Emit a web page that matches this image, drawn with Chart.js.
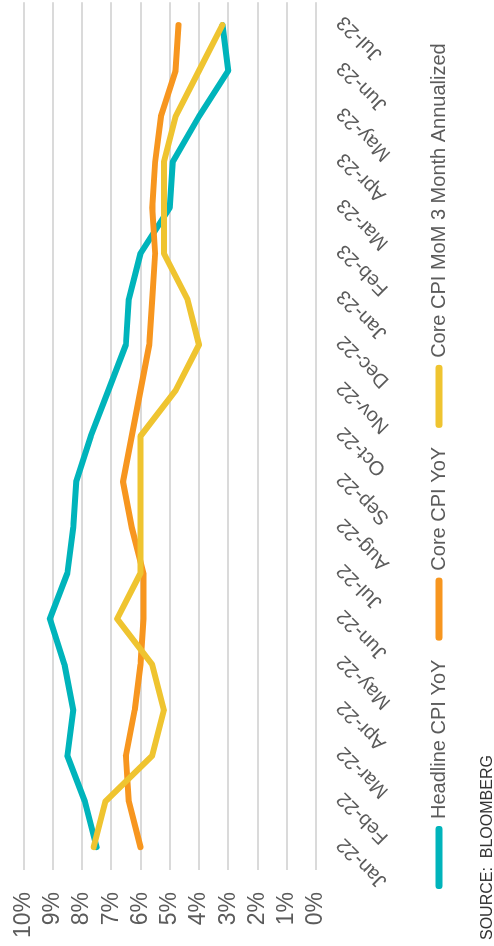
<!DOCTYPE html>
<html>
<head>
<meta charset="utf-8">
<script src="https://cdn.jsdelivr.net/npm/chart.js@4"></script>
<style>
  html, body { margin: 0; padding: 0; background: #fff; overflow: hidden; }
  #stage {
    position: absolute; left: 0; top: 946px;
    width: 946px; height: 494px; overflow: hidden;
    transform-origin: 0 0; transform: rotate(-90deg);
    font-family: "Liberation Sans", Arial, sans-serif;
  }
  #wrap { position: absolute; left: 0; top: 0; width: 954px; height: 494px; }
  #source {
    position: absolute; left: 6px; top: 478px;
    font-size: 16px; color: #333; white-space: pre;
  }
</style>
</head>
<body>
<div id="stage">
  <div id="wrap"><canvas id="myChart"></canvas></div>
  <div id="source">SOURCE:  BLOOMBERG</div>
</div>
<script>
// Months on the category axis
const months = ['Jan-22', 'Feb-22', 'Mar-22', 'Apr-22', 'May-22', 'Jun-22', 'Jul-22', 'Aug-22', 'Sep-22',
    'Oct-22', 'Nov-22', 'Dec-22', 'Jan-23', 'Feb-23', 'Mar-23', 'Apr-23', 'May-23', 'Jun-23', 'Jul-23'];

// Series values (percent)
const headlineYoY = [7.5, 7.9, 8.5, 8.3, 8.6, 9.1, 8.5, 8.3, 8.2, 7.7, 7.1, 6.5, 6.4, 6.0, 5.0, 4.9, 4.0, 3.0, 3.2];
const coreYoY = [6.0, 6.4, 6.5, 6.2, 6.0, 5.9, 5.9, 6.3, 6.6, 6.3, 6.0, 5.7, 5.6, 5.5, 5.6, 5.5, 5.3, 4.8, 4.7];
const coreMoM3m = [7.6, 7.2, 5.6, 5.2, 5.6, 6.8, 6.0, 6.0, 6.0, 6.0, 4.8, 4.0, 4.4, 5.2, 5.2, 5.2, 4.8, 4.0, 3.2];

// Value axis
const yMin = 0;
const yMax = 10;
const yStep = 1;

const seriesNames = ['Headline CPI YoY', 'Core CPI YoY', 'Core CPI MoM 3 Month Annualized'];
const seriesColors = ['#00b4bb', '#f7961f', '#efc430'];

const textColor = '#5b5b5b';
const fontFamily = '"Liberation Sans", Arial, sans-serif';

function makeLine(i, values, order) {
    return {
        label: seriesNames[i],
        data: values,
        borderColor: seriesColors[i],
        backgroundColor: seriesColors[i],
        borderWidth: 6,
        borderCapStyle: 'round',
        borderJoinStyle: 'round',
        pointRadius: 0,
        pointHoverRadius: 0,
        tension: 0,
        fill: false,
        order: order,
    };
}

// nudge the legend right so it starts under the plot like the original
const legendShift = {
    id: 'legendShift',
    afterLayout(chart) {
        if (chart.legend) {
            chart.legend.left += 38;
            chart.legend.right += 38;
        }
    },
};

const ctx = document.getElementById('myChart').getContext('2d');
const myChart = new Chart(ctx, {
    type: 'line',
    data: {
        labels: months,
        datasets: [
            makeLine(0, headlineYoY, 2),
            makeLine(1, coreYoY, 1),
            makeLine(2, coreMoM3m, 0),
        ],
    },
    options: {
        responsive: true,
        maintainAspectRatio: false,
        animation: false,
        devicePixelRatio: 1,
        layout: { padding: { left: 0, right: 0, top: 23.5, bottom: 35 } },
        scales: {
            x: {
                type: 'category',
                offset: true,
                grid: { display: false, drawTicks: false },
                border: { display: false },
                ticks: {
                    color: textColor,
                    font: { family: fontFamily, size: 20 },
                    minRotation: 45,
                    maxRotation: 45,
                    autoSkip: false,
                    padding: 16,
                    labelOffset: 6,
                },
                afterFit: function(scale) { scale.height = 91; },
            },
            y: {
                min: yMin,
                max: yMax,
                grid: { color: '#dadada', lineWidth: 2, drawTicks: false },
                border: { display: false },
                ticks: {
                    stepSize: yStep,
                    autoSkip: false,
                    color: textColor,
                    font: { family: fontFamily, size: 23 },
                    padding: 22,
                    callback: function(value) { return value + '%'; },
                },
                afterFit: function(scale) {
                    scale.width = 76;
                    scale.paddingTop = 0;
                    scale.paddingBottom = 0;
                },
            },
        },
        plugins: {
            tooltip: { enabled: false },
            legend: {
                display: true,
                position: 'bottom',
                align: 'start',
                labels: {
                    color: textColor,
                    font: { family: fontFamily, size: 20 },
                    boxWidth: 57,
                    boxHeight: 1,
                    padding: 22,
                    sort: (a, b) => a.datasetIndex - b.datasetIndex,
                },
            },
        },
    },
    plugins: [legendShift],
});
</script>
</body>
</html>
